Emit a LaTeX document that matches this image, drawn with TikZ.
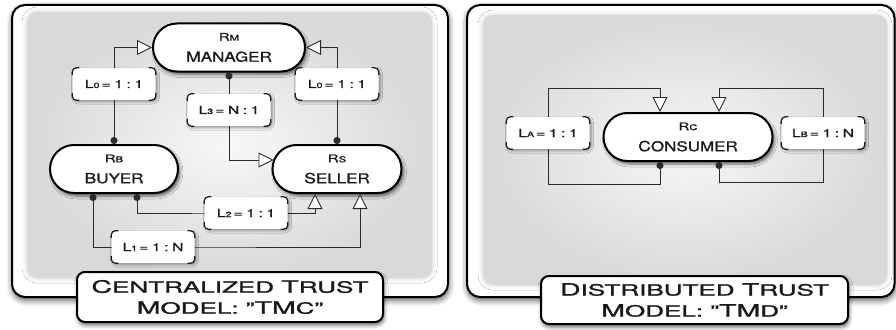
\documentclass[tikz,border=0pt]{standalone}
\usepackage{fontspec}
\usepackage{graphicx}
\setmainfont[FakeBold=1.1]{TeX Gyre Heros}
\usetikzlibrary{shapes.misc,arrows.meta,shadows.blur}

\definecolor{ink}{HTML}{1A1A1A}
\definecolor{lineC}{HTML}{2A2A2A}

\newcommand\fs[2]{{\fontsize{#1}{#1}\selectfont #2}}
\newcommand\W[1]{\scalebox{1.42}[1]{#1}}
\newcommand\Wn[1]{\scalebox{1.26}[1]{#1}}
\newcommand\Wc[1]{\scalebox{1.68}[1]{#1}}
\newcommand\lab[3]{\W{L\fs{7.5}{#1}\kern1.5pt=\kern2.5pt#2\kern2.5pt:\kern2.5pt#3}}
\newcommand\brackets[1]{%
 \draw[brk] ([yshift=-7pt]#1.north west) -- (#1.north west) -- ([xshift=7pt]#1.north west);
 \draw[brk] ([xshift=-7pt]#1.north east) -- (#1.north east) -- ([yshift=-7pt]#1.north east);
 \draw[brk] ([yshift=7pt]#1.south west) -- (#1.south west) -- ([xshift=7pt]#1.south west);
 \draw[brk] ([xshift=-7pt]#1.south east) -- (#1.south east) -- ([yshift=7pt]#1.south east);}

\tikzset{
 panel/.style={draw=black, line width=2pt, fill=white, rounded corners=13pt,
   blur shadow={shadow xshift=0.5pt, shadow yshift=-3pt, shadow blur radius=6pt, shadow opacity=70}},
 innerpanel/.style={rounded corners=10pt, inner color=gray!6, outer color=gray!30,
   blur shadow={shadow xshift=0pt, shadow yshift=0pt, shadow blur radius=5pt, shadow opacity=18}},
 pill/.style={rounded rectangle, draw=black, line width=2pt, fill=white, minimum height=48pt,
   inner sep=0pt, align=center, text=ink, font=\fontsize{13.5}{14}\selectfont,
   blur shadow={shadow xshift=2pt, shadow yshift=-3pt, shadow blur radius=3pt, shadow opacity=60}},
 lbl/.style={rectangle, rounded corners=4pt, fill=white, minimum width=83pt, minimum height=32pt,
   inner sep=0pt, text=ink, font=\fontsize{11}{13}\selectfont,
   blur shadow={shadow xshift=1.5pt, shadow yshift=-1.5pt, shadow blur radius=2.5pt, shadow opacity=45}},
 captionbox/.style={rectangle, rounded corners=8pt, draw=black, line width=2pt, fill=white,
   align=center, inner sep=0pt, text=ink, font=\fontsize{15.5}{17}\selectfont,
   blur shadow={shadow xshift=1pt, shadow yshift=-3pt, shadow blur radius=4pt, shadow opacity=60}},
 brk/.style={draw=ink, line width=1.2pt, rounded corners=4pt},
 conn/.style={draw=lineC, line width=0.9pt},
 dt/.style={{Circle[length=7pt]}-{Triangle[open, fill=white, length=15pt, width=15pt]}},
}

\begin{document}
\begin{tikzpicture}[x=1pt,y=-1pt]
\useasboundingbox (0,0) rectangle (896,329);

% panels
\path[panel] (12,5) rectangle (448,297);
\path[innerpanel] (27,12) rectangle (432,278);
\path[panel] (467,5) rectangle (894.5,297);
\path[innerpanel] (483,15) rectangle (887,285);

% captions
\node[captionbox, minimum width=306pt, minimum height=50pt] (capL) at (230,297)
 {\Wc{\fs{17}{C}ENTRALIZED \fs{17}{T}RUST}\\[4pt]\Wc{\fs{17}{M}ODEL: "\fs{17}{TM}C"}};
\node[captionbox, minimum width=307pt, minimum height=48pt] (capR) at (694.5,300)
 {\Wc{\fs{17}{D}ISTRIBUTED \fs{17}{T}RUST}\\[4pt]\Wc{\fs{17}{M}ODEL: "\fs{17}{TM}D"}};

% diagram nodes
\node[pill, minimum width=152pt] (mgr) at (229,47.5)
 {\W{\fs{10.5}{R}\fs{8}{M}}\\[7pt]\Wn{\fs{14}{M}ANAGER}};
\node[pill, minimum width=128pt] (buyer) at (114,169)
 {\W{\fs{10.5}{R}\fs{8}{B}}\\[7pt]\Wn{\fs{14}{B}UYER}};
\node[pill, minimum width=129pt] (seller) at (337,169)
 {\W{\fs{10.5}{R}\fs{8}{S}}\\[7pt]\Wn{\fs{14}{S}ELLER}};
\node[pill, minimum width=169pt] (cons) at (688,137)
 {\W{\fs{10.5}{R}\fs{8}{C}}\\[7pt]\Wn{\fs{14}{C}ONSUMER}};

% label positions
\coordinate (p0a) at (114,84);
\coordinate (p0b) at (337,84);
\coordinate (p3) at (229,110);
\coordinate (p2) at (246,213);
\coordinate (p1) at (153,247);
\coordinate (pa) at (548,133);
\coordinate (pb) at (823,133);
\coordinate (yA) at (0,184);
\coordinate (yB) at (0,182);
\coordinate (yT) at (0,88);

% connectors
\draw[conn,dt] (buyer.north) |- (mgr.west);
\draw[conn,dt] (seller.north) |- (mgr.east);
\draw[conn,dt] (mgr.south) |- ([shift={(2pt,9pt)}]seller.west);
\draw[conn,dt] ([xshift=23pt]buyer.south) |- (p2) -| ([xshift=-22pt]seller.south);
\draw[conn,dt] ([xshift=-21pt]buyer.south) |- (p1) -| ([xshift=23pt]seller.south);
\draw[conn,dt] ([xshift=-28pt]cons.south) |- (pa |- yA) -- (pa |- yT) -| ([xshift=-28pt]cons.north);
\draw[conn,dt] ([xshift=31pt]cons.south) |- (pb |- yB) -- (pb |- yT) -| ([xshift=31pt]cons.north);

% labels
\node[lbl] (l0a) at (p0a) {\lab{0}{1}{1}};
\node[lbl] (l0b) at (p0b) {\lab{0}{1}{1}};
\node[lbl] (l3) at (p3) {\lab{3}{N}{1}};
\node[lbl] (l2) at (p2) {\lab{2}{1}{1}};
\node[lbl] (l1) at (p1) {\lab{1}{1}{N}};
\node[lbl] (la) at (pa) {\lab{A}{1}{1}};
\node[lbl] (lb) at (pb) {\lab{B}{1}{N}};
\brackets{l0a}\brackets{l0b}\brackets{l3}\brackets{l2}\brackets{l1}\brackets{la}\brackets{lb}
\end{tikzpicture}
\end{document}
